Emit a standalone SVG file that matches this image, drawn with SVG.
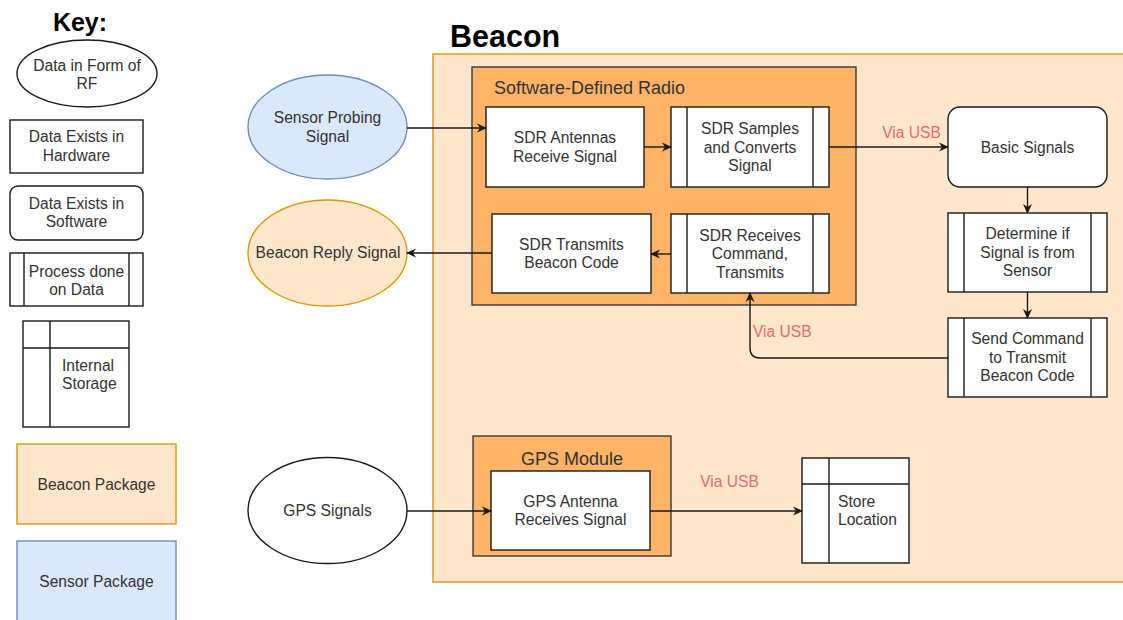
<svg xmlns="http://www.w3.org/2000/svg" width="1123" height="620" viewBox="0 0 1123 620">
<style>
text{font-family:"Liberation Sans",Arial,sans-serif;font-size:15.6px;fill:#333333;}
.c{text-anchor:middle;}
.t{font-weight:bold;fill:#000;}
.box{fill:#fff;stroke:#1a1a1a;stroke-width:1.4;}
.ln{stroke:#1a1a1a;stroke-width:1.4;fill:none;}
.edge{stroke:#1a1a1a;stroke-width:1.4;fill:none;marker-end:url(#arr);}
.usb{fill:#ea6b66;font-size:15.6px;}
.beacon{fill:#ffe6cc;stroke:#d79b00;stroke-width:1.4;}
.sensor{fill:#dae8fc;stroke:#6c8ebf;stroke-width:1.4;}
.mod{fill:#ffb366;stroke:#36393d;stroke-width:1.4;}
.mt{font-size:18px;}
</style>
<defs>
<marker id="arr" markerWidth="10" markerHeight="10" refX="9" refY="5" orient="auto" markerUnits="userSpaceOnUse">
<path d="M0,0.5 L10,5 L0,9.5 L3,5 z" fill="#1a1a1a"/>
</marker>
</defs>
<rect width="1123" height="620" fill="#fff"/>

<g id="key">
<text class="t c" x="80" y="31" style="font-size:25px">Key:</text>
<g id="key-rf"><ellipse class="box" cx="87" cy="73.5" rx="70" ry="33.5"/><text class="c" x="87" y="71">Data in Form of</text><text class="c" x="87" y="89">RF</text></g>
<g id="key-hw"><rect class="box" x="10" y="120" width="133" height="53"/><text class="c" x="76.5" y="142">Data Exists in</text><text class="c" x="76.5" y="161">Hardware</text></g>
<g id="key-sw"><rect class="box" x="10" y="186" width="133" height="54" rx="8"/><text class="c" x="76.5" y="209">Data Exists in</text><text class="c" x="76.5" y="227">Software</text></g>
<g id="key-proc"><rect class="box" x="10" y="253" width="133" height="53"/><line class="ln" x1="24" y1="253" x2="24" y2="306"/><line class="ln" x1="129" y1="253" x2="129" y2="306"/><text class="c" x="76.5" y="277">Process done</text><text class="c" x="76.5" y="295">on Data</text></g>
<g id="key-store"><rect class="box" x="23" y="321" width="106" height="106"/><line class="ln" x1="50" y1="321" x2="50" y2="427"/><line class="ln" x1="23" y1="348" x2="129" y2="348"/><text x="62" y="371">Internal</text><text x="62" y="389">Storage</text></g>
<g id="key-beacon"><rect class="beacon" x="17" y="444" width="159" height="80"/><text class="c" x="96.5" y="490">Beacon Package</text></g>
<g id="key-sensor"><rect class="sensor" x="17" y="541" width="159" height="80"/><text class="c" x="96.5" y="587">Sensor Package</text></g>
</g>

<g id="beacon">
<text class="t" x="450" y="47" style="font-size:30.5px">Beacon</text>
<rect class="beacon" x="433" y="54" width="700" height="528"/>
</g>

<g id="sdr">
<rect class="mod" x="472" y="67" width="384" height="238"/>
<text class="mt" x="494" y="94">Software-Defined Radio</text>
</g>

<g id="gps-module">
<rect class="mod" x="473" y="436" width="198" height="120"/>
<text class="mt c" x="572" y="465">GPS Module</text>
</g>

<g id="sensor-probing"><ellipse class="sensor" cx="327.5" cy="127" rx="79.5" ry="52"/><text class="c" x="327.5" y="123">Sensor Probing</text><text class="c" x="327.5" y="142">Signal</text></g>
<g id="beacon-reply"><ellipse class="beacon" cx="327.5" cy="253" rx="79.5" ry="53"/><text class="c" x="328" y="258">Beacon Reply Signal</text></g>
<g id="gps-signals"><ellipse class="box" cx="327.5" cy="510.5" rx="79.5" ry="53"/><text class="c" x="327.5" y="516">GPS Signals</text></g>

<g id="sdr-antennas"><rect class="box" x="486" y="107" width="158" height="80"/><text class="c" x="565" y="143">SDR Antennas</text><text class="c" x="565" y="161.5">Receive Signal</text></g>
<g id="sdr-samples"><rect class="box" x="671" y="107" width="158" height="80"/><line class="ln" x1="687" y1="107" x2="687" y2="187"/><line class="ln" x1="813" y1="107" x2="813" y2="187"/><text class="c" x="750" y="134">SDR Samples</text><text class="c" x="750" y="152.5">and Converts</text><text class="c" x="750" y="171">Signal</text></g>
<g id="sdr-transmits"><rect class="box" x="492" y="214" width="159" height="79"/><text class="c" x="571.5" y="249.5">SDR Transmits</text><text class="c" x="571.5" y="268">Beacon Code</text></g>
<g id="sdr-receives"><rect class="box" x="671" y="214" width="158" height="79"/><line class="ln" x1="687" y1="214" x2="687" y2="293"/><line class="ln" x1="813" y1="214" x2="813" y2="293"/><text class="c" x="750" y="240.5">SDR Receives</text><text class="c" x="750" y="259">Command,</text><text class="c" x="750" y="277.5">Transmits</text></g>
<g id="basic-signals"><rect class="box" x="948" y="107" width="159" height="80" rx="12"/><text class="c" x="1027.5" y="152.5">Basic Signals</text></g>
<g id="determine"><rect class="box" x="948" y="213" width="159" height="79"/><line class="ln" x1="964" y1="213" x2="964" y2="292"/><line class="ln" x1="1091" y1="213" x2="1091" y2="292"/><text class="c" x="1027.5" y="239">Determine if</text><text class="c" x="1027.5" y="257.5">Signal is from</text><text class="c" x="1027.5" y="276">Sensor</text></g>
<g id="send-command"><rect class="box" x="948" y="318" width="159" height="79"/><line class="ln" x1="964" y1="318" x2="964" y2="397"/><line class="ln" x1="1091" y1="318" x2="1091" y2="397"/><text class="c" x="1027.5" y="344">Send Command</text><text class="c" x="1027.5" y="362.5">to Transmit</text><text class="c" x="1027.5" y="381">Beacon Code</text></g>
<g id="gps-antenna"><rect class="box" x="491" y="471" width="159" height="79"/><text class="c" x="570.5" y="506.5">GPS Antenna</text><text class="c" x="570.5" y="525">Receives Signal</text></g>
<g id="store-location"><rect class="box" x="802" y="458" width="107" height="105"/><line class="ln" x1="829" y1="458" x2="829" y2="563"/><line class="ln" x1="802" y1="484" x2="909" y2="484"/><text x="838" y="507">Store</text><text x="838" y="525">Location</text></g>

<g id="connectors">
<path class="edge" d="M407,128 L486,128"/>
<path class="edge" d="M644,147 L671,147"/>
<path class="edge" d="M829,147 L948,147"/>
<path class="edge" d="M1027.5,187 L1027.5,213"/>
<path class="edge" d="M1027.5,292 L1027.5,318"/>
<path class="edge" d="M948,358 L760,358 Q750,358 750,348 L750,293"/>
<path class="edge" d="M671,254 L651,254"/>
<path class="edge" d="M492,253 L407,253"/>
<path class="edge" d="M407,511 L491,511"/>
<path class="edge" d="M650,511 L802,511"/>
<text class="usb c" x="911.5" y="138">Via USB</text>
<text class="usb" x="753" y="337">Via USB</text>
<text class="usb c" x="729.5" y="487">Via USB</text>
</g>
</svg>
